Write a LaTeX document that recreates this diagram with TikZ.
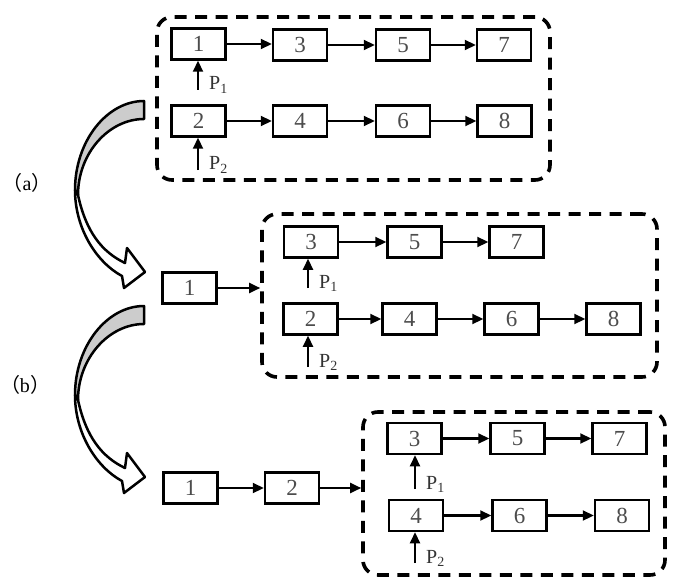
\documentclass[tikz,border=0pt]{standalone}
\usepackage{fontspec}
\setmainfont{Liberation Serif}
\newfontfamily\cjk{Noto Sans CJK SC}
\usetikzlibrary{arrows.meta}
\definecolor{tailgray}{gray}{0.8}
\tikzset{
blk/.style={draw, line width=2.5pt, minimum width=54pt, minimum height=31pt,
    inner sep=0pt, text=black!70, font=\fontsize{23}{25}\selectfont},
grp/.style={draw, line width=3.6pt, dash pattern=on 12pt off 8.5pt,
    rounded corners=15pt, minimum height=163pt},
arr/.style={line width=2.2pt, -{Triangle[length=11pt,width=10pt]}},
plab/.style={font=\fontsize{20}{22}\selectfont, inner sep=0pt, anchor=base west,
    text=black!80},
tag/.style={font=\fontsize{20}{22}\selectfont}
}
\newcommand{\bendarrow}[1]{
  \begin{scope}[yshift=-#1pt, line width=2.5pt, line join=round]
    \filldraw[fill=tailgray] (144,101) -- (144,119)
      .. controls (109,119) and (78,153) .. (78,195) -- (75,190)
      .. controls (75,141) and (107,101) .. (144,101) -- cycle;
    \filldraw[fill=white] (75,190) .. controls (75,228) and (96,262) .. (122,276)
      -- (124,288) -- (145,272) -- (127,248) -- (125,263)
      .. controls (102,252) and (86,232) .. (78,195) -- cycle;
  \end{scope}
}

\begin{document}
\begin{tikzpicture}[x=1pt, y=-1pt]
	\useasboundingbox (0,0) rectangle (679,588);
	\node[grp, minimum width=393pt] (ga) at (353.5,98.5) {};
	\node[blk] (t1) at (198.5,44) {1};
	\node[blk] (t3) at (300,45) {3};
	\node[blk] (t5) at (403,45) {5};
	\node[blk] (t7) at (504,45) {7};
	\node[blk] (t2) at (198.5,121) {2};
	\node[blk] (t4) at (300,121) {4};
	\node[blk] (t6) at (403,121) {6};
	\node[blk] (t8) at (504.5,121) {8};
	\draw[arr] (t1) -- (t1 -| t3.west);
	\draw[arr] (t3) -- (t5);
	\draw[arr] (t5) -- (t7);
	\draw[arr] (t2) -- (t4);
	\draw[arr] (t4) -- (t6);
	\draw[arr] (t6) -- (t8);
	\coordinate (tp1) at (198,90);
	\coordinate (tp2) at (198,170);
	\draw[arr] (tp1) -- (tp1 |- t1.south);
	\draw[arr] (tp2) -- (tp2 |- t2.south);
	\node[plab] (tq1) at ([xshift=11pt]tp1) {P\textsubscript{1}};
	\node[plab] (tq2) at ([xshift=11pt]tp2) {P\textsubscript{2}};

	\node[grp, minimum width=395pt] (gb) at (459.5,295.5) {};
	\node[blk] (m1) at (189.5,288) {1};
	\node[blk] (m3) at (311,242) {3};
	\node[blk] (m5) at (414.5,242) {5};
	\node[blk] (m7) at (516.5,242) {7};
	\node[blk] (m2) at (310.5,319) {2};
	\node[blk] (m4) at (409.5,319) {4};
	\node[blk] (m6) at (511.5,319) {6};
	\node[blk] (m8) at (613.5,319) {8};
	\draw[arr] (m1) -- (m1 -| gb.west);
	\draw[arr] (m3) -- (m5);
	\draw[arr] (m5) -- (m7);
	\draw[arr] (m2) -- (m4);
	\draw[arr] (m4) -- (m6);
	\draw[arr] (m6) -- (m8);
	\coordinate (mp1) at (308,288);
	\coordinate (mp2) at (308,367);
	\draw[arr] (mp1) -- (mp1 |- m3.south);
	\draw[arr] (mp2) -- (mp2 |- m2.south);
	\node[plab] (mq1) at ([xshift=11pt]mp1) {P\textsubscript{1}};
	\node[plab] (mq2) at ([xshift=11pt]mp2) {P\textsubscript{2}};

	\node[grp, minimum width=302pt] (gc) at (514,493.5) {};
	\node[blk] (b1) at (190.5,488) {1};
	\node[blk] (b2) at (292,488) {2};
	\node[blk] (b3) at (414.5,438.5) {3};
	\node[blk] (b5) at (517.5,438.5) {5};
	\node[blk] (b7) at (619.5,438.5) {7};
	\node[blk] (b4) at (416,515.5) {4};
	\node[blk] (b6) at (519.5,515.5) {6};
	\node[blk] (b8) at (622,515.5) {8};
	\draw[arr] (b1) -- (b2);
	\draw[arr] (b2) -- (b2 -| gc.west);
	\draw[arr] (b3) -- (b5);
	\draw[arr] (b5) -- (b7);
	\draw[arr] (b4) -- (b6);
	\draw[arr] (b6) -- (b8);
	\coordinate (bp1) at (415,489);
	\coordinate (bp2) at (415,563);
	\draw[arr] (bp1) -- (bp1 |- b3.south);
	\draw[arr] (bp2) -- (bp2 |- b4.south);
	\node[plab] (bq1) at ([xshift=11pt]bp1) {P\textsubscript{1}};
	\node[plab] (bq2) at ([xshift=11pt]bp2) {P\textsubscript{2}};

	\bendarrow{0}
	\bendarrow{205}
	\node[tag] (ta) at (27,183) {{\cjk （}a{\cjk ）}};
	\node[tag] (tb) at (25,385) {{\cjk （}b{\cjk ）}};
\end{tikzpicture}
\end{document}
